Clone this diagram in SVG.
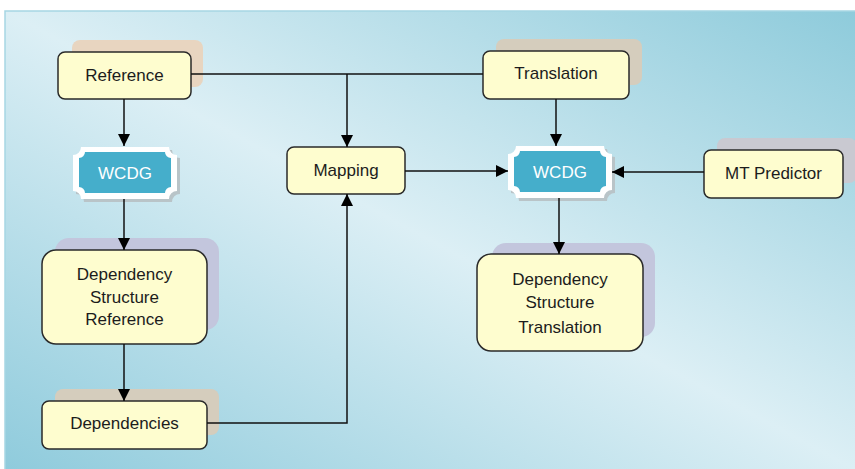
<svg xmlns="http://www.w3.org/2000/svg" width="855" height="469" viewBox="0 0 855 469">
<defs>
<linearGradient id="bg" x1="0" y1="1" x2="1" y2="0">
<stop offset="0" stop-color="#8fcbdc"/>
<stop offset="0.5" stop-color="#dcEFF5"/>
<stop offset="1" stop-color="#8ecbdb"/>
</linearGradient>
<marker id="ah" viewBox="0 0 12 12" refX="12" refY="6" markerWidth="12" markerHeight="12" markerUnits="userSpaceOnUse" orient="auto">
<path d="M0,0 L12,6 L0,12 Z" fill="#000"/>
</marker>
</defs>
<style>
.box{fill:#fefdcf;stroke:#2a2a2a;stroke-width:1.5}
.t{font-family:"Liberation Sans",Arial,sans-serif;font-size:17px;fill:#1c1c1c;text-anchor:middle}
.tw{font-family:"Liberation Sans",Arial,sans-serif;font-size:17px;fill:#ffffff;text-anchor:middle}
.c{fill:none;stroke:#111;stroke-width:1.5}
.sh-peach{fill:#e8d5c0}
.sh-beige{fill:#d5cdbd}
.sh-grey{fill:#c9c9d1}
.sh-lav{fill:#c3c6dd}
.wout{fill:#ffffff}
.win{fill:#45aecb}
.wsh{fill:#b9c4c8}
</style>
<rect x="5" y="11" width="851" height="459" fill="url(#bg)" stroke="#a6d6e3" stroke-width="1.5"/>

<g id="reference">
<rect class="sh-peach" x="72" y="40" width="131" height="47" rx="8"/>
<rect class="box" x="58" y="52" width="133" height="47" rx="7"/>
<text class="t" x="124.5" y="81">Reference</text>
</g>

<g id="translation">
<rect class="sh-beige" x="496" y="39" width="146" height="46" rx="8"/>
<rect class="box" x="483" y="51" width="146" height="48" rx="7"/>
<text class="t" x="556" y="79">Translation</text>
</g>

<g id="mapping">
<rect class="box" x="287" y="147" width="118" height="47" rx="7"/>
<text class="t" x="346" y="176">Mapping</text>
</g>

<g id="mt-predictor">
<rect class="sh-grey" x="717" y="138" width="140" height="45" rx="8"/>
<rect class="box" x="704" y="150" width="139" height="48" rx="7"/>
<text class="t" x="773.5" y="179">MT Predictor</text>
</g>

<g id="wcdg-left">
<path class="wsh" d="M84,150 H172 A8,8 0 0 0 180,158 V194 A8,8 0 0 0 172,202 H84 A8,8 0 0 0 76,194 V158 A8,8 0 0 0 84,150 Z"/>
<path class="wout" d="M81,147 H169 A8,8 0 0 0 177,155 V191 A8,8 0 0 0 169,199 H81 A8,8 0 0 0 73,191 V155 A8,8 0 0 0 81,147 Z"/>
<path class="win" d="M85,152 H165 A6,6 0 0 0 171,158 V187 A6,6 0 0 0 165,193 H85 A6,6 0 0 0 79,187 V158 A6,6 0 0 0 85,152 Z"/>
<text class="tw" x="125" y="179">WCDG</text>
</g>

<g id="wcdg-right">
<path class="wsh" d="M519,149 H607 A8,8 0 0 0 615,157 V193 A8,8 0 0 0 607,201 H519 A8,8 0 0 0 511,193 V157 A8,8 0 0 0 519,149 Z"/>
<path class="wout" d="M516,146 H604 A8,8 0 0 0 612,154 V190 A8,8 0 0 0 604,198 H516 A8,8 0 0 0 508,190 V154 A8,8 0 0 0 516,146 Z"/>
<path class="win" d="M520,151 H600 A6,6 0 0 0 606,157 V186 A6,6 0 0 0 600,192 H520 A6,6 0 0 0 514,186 V157 A6,6 0 0 0 520,151 Z"/>
<text class="tw" x="560" y="178">WCDG</text>
</g>

<g id="dep-struct-ref">
<rect class="sh-lav" x="55" y="238" width="164" height="92" rx="14"/>
<rect class="box" x="42" y="250" width="165" height="94" rx="14"/>
<text class="t" x="124.5" y="280">Dependency</text>
<text class="t" x="124.5" y="303">Structure</text>
<text class="t" x="124.5" y="325">Reference</text>
</g>

<g id="dependencies">
<rect class="sh-beige" x="55" y="389" width="164" height="46" rx="8"/>
<rect class="box" x="42" y="401" width="165" height="48" rx="7"/>
<text class="t" x="124.5" y="429">Dependencies</text>
</g>

<g id="dep-struct-trans">
<rect class="sh-lav" x="492" y="243" width="163" height="94" rx="14"/>
<rect class="box" x="477" y="254" width="166" height="97" rx="14"/>
<text class="t" x="560" y="285">Dependency</text>
<text class="t" x="560" y="308">Structure</text>
<text class="t" x="560" y="333">Translation</text>
</g>

<g id="connectors">
<path class="c" d="M191,74 H483"/>
<path class="c" d="M347,74 V147" marker-end="url(#ah)"/>
<path class="c" d="M124,99 V146" marker-end="url(#ah)"/>
<path class="c" d="M124,199 V250" marker-end="url(#ah)"/>
<path class="c" d="M124,344 V401" marker-end="url(#ah)"/>
<path class="c" d="M207,423 H347 V194" marker-end="url(#ah)"/>
<path class="c" d="M405,171 H508" marker-end="url(#ah)"/>
<path class="c" d="M556,99 V146" marker-end="url(#ah)"/>
<path class="c" d="M704,172 H612" marker-end="url(#ah)"/>
<path class="c" d="M559,198 V254" marker-end="url(#ah)"/>
</g>
</svg>
